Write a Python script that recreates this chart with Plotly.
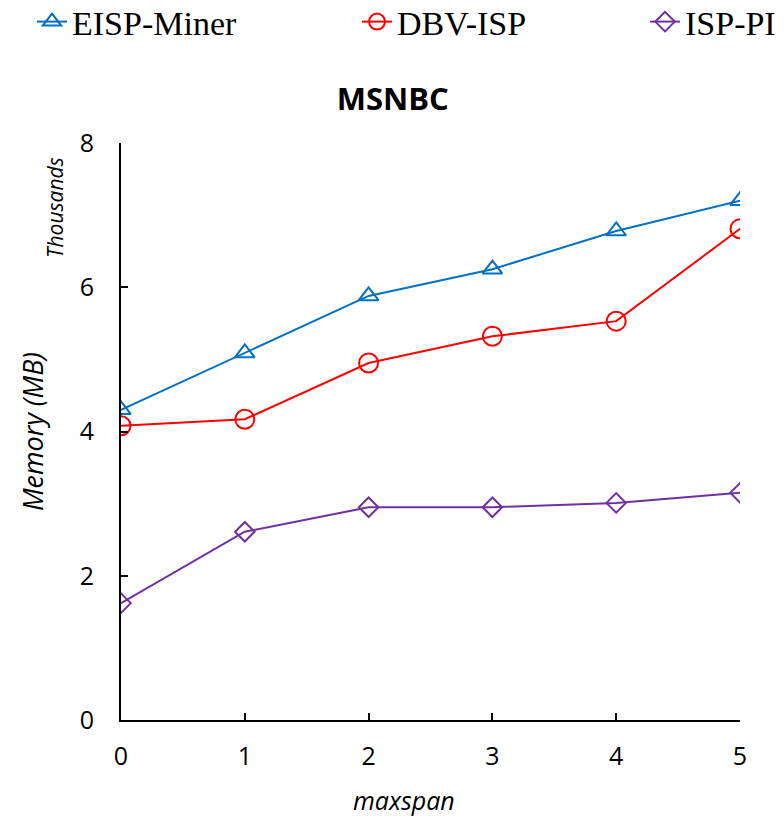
import plotly.graph_objects as go

maxspan = [0, 1, 2, 3, 4, 5]
eisp_miner = [4300, 5090, 5880, 6250, 6780, 7200]
dbv_isp = [4080, 4170, 4950, 5320, 5530, 6810]
isp_pi = [1620, 2610, 2950, 2950, 3010, 3150]
y_ticks = [0, 2, 4, 6, 8]

def th(v):
    return [x / 1000 for x in v]

fig = go.Figure()
fig.add_trace(go.Scatter(x=maxspan, y=th(eisp_miner), name="EISP-Miner", mode="lines+markers",
                         legend="legend", showlegend=True,
                         line=dict(color="#0070C0", width=2),
                         marker=dict(symbol="triangle-up-open", size=17, color="#0070C0", line=dict(width=2))))
fig.add_trace(go.Scatter(x=maxspan, y=th(dbv_isp), name="DBV-ISP", mode="lines+markers",
                         legend="legend2", showlegend=True,
                         line=dict(color="#FF0000", width=2),
                         marker=dict(symbol="circle-open", size=19, color="#FF0000", line=dict(width=2))))
fig.add_trace(go.Scatter(x=maxspan, y=th(isp_pi), name="ISP-PI", mode="lines+markers",
                         legend="legend3", showlegend=True,
                         line=dict(color="#7030A0", width=2),
                         marker=dict(symbol="diamond-open", size=15, color="#7030A0", line=dict(width=2))))

def leg(xpx):
    return dict(orientation="h", xref="container", yref="container", x=xpx / 784, xanchor="left",
                y=1.0 - 22 / 818, yanchor="middle", font=dict(family="Liberation Serif", size=34),
                bgcolor="rgba(0,0,0,0)", visible=True)

fig.update_layout(
    width=784, height=818,
    showlegend=True,
    margin=dict(l=121, r=44, t=143, b=98),
    plot_bgcolor="white", paper_bgcolor="white",
    font=dict(family="Open Sans", color="black", size=25),
    title=dict(text="<b>MSNBC</b>", x=0.501, xanchor="center", y=1 - 99 / 818, yanchor="middle",
               xref="container", yref="container", font=dict(size=31, family="Open Sans")),
    legend=leg(32), legend2=leg(357), legend3=leg(645),
    xaxis=dict(range=[0, 5], tickvals=maxspan, showline=True, linecolor="black", linewidth=2,
               ticks="inside", ticklen=7, tickwidth=2, tickcolor="black", showgrid=False, zeroline=False,
               tickfont=dict(size=25), ticklabelstandoff=13),
    yaxis=dict(range=[0, 8], tickvals=y_ticks, showline=True, linecolor="black", linewidth=2,
               ticks="inside", ticklen=7, tickwidth=2, tickcolor="black", showgrid=False, zeroline=False,
               tickfont=dict(size=25),
               title=dict(text="<i>Memory (MB)</i>", font=dict(size=27), standoff=28),
               ticklabelstandoff=20),
)
fig.add_annotation(text="<i>Thousands</i>", xref="paper", yref="paper", x=(55 - 121) / 619,
                   y=(720 - 208) / 577, xanchor="center", yanchor="middle",
                   showarrow=False, textangle=-90, font=dict(size=21))
fig.add_annotation(text="<i>maxspan</i>", xref="paper", yref="paper", x=(404 - 121) / 619,
                   y=(720 - 800) / 577, xanchor="center", yanchor="middle",
                   showarrow=False, font=dict(size=25))
fig.write_html("out.html")
